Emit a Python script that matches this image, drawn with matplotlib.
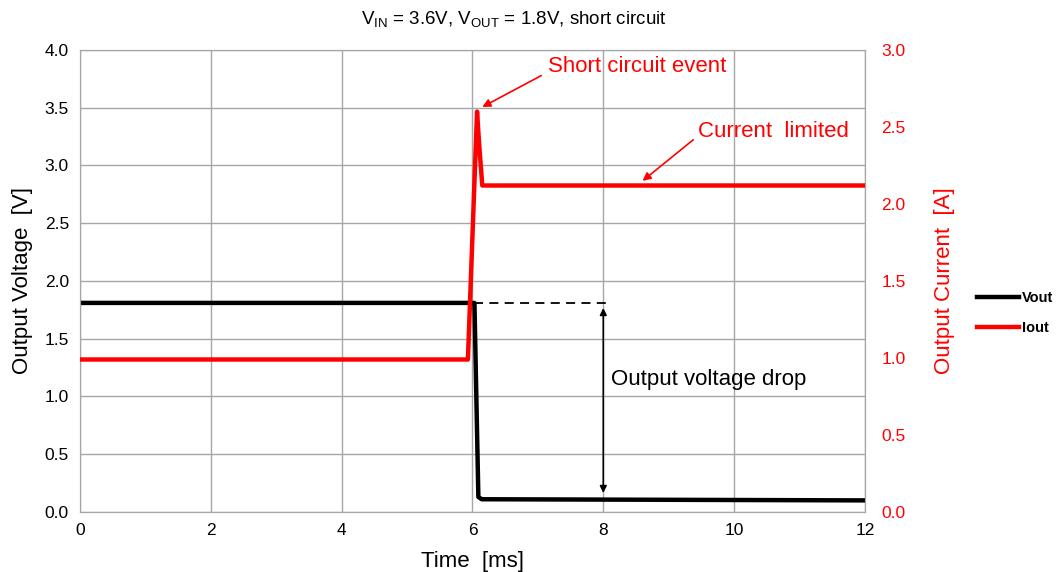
import matplotlib.pyplot as plt

# Short circuit test waveform, VIN = 3.6V, VOUT = 1.8V

plt.rcParams['font.family'] = ['Liberation Sans', 'DejaVu Sans']
plt.rcParams['mathtext.fontset'] = 'custom'
plt.rcParams['mathtext.rm'] = 'Liberation Sans'

t_vout = [0, 6.03, 6.09, 6.14, 12]
vout = [1.81, 1.81, 0.13, 0.11, 0.10]

t_iout = [0, 5.93, 6.07, 6.10, 6.15, 12]
iout = [0.99, 0.99, 2.60, 2.40, 2.12, 2.12]

x_ticks = [0, 2, 4, 6, 8, 10, 12]
v_ticks = [0.0, 0.5, 1.0, 1.5, 2.0, 2.5, 3.0, 3.5, 4.0]
i_ticks = [0.0, 0.5, 1.0, 1.5, 2.0, 2.5, 3.0]

fig = plt.figure(figsize=(10.57, 5.72), dpi=100)
ax = fig.add_axes([0.0757, 0.105, 0.7426, 0.8076])
ax2 = ax.twinx()

ax.set_xlim(0, 12)
ax.set_ylim(0, 4)
ax2.set_ylim(0, 3)
ax.set_xticks(x_ticks)
ax.set_yticks(v_ticks)
ax2.set_yticks(i_ticks)
ax.set_yticklabels([f"{v:.1f}" for v in v_ticks])
ax2.set_yticklabels([f"{v:.1f}" for v in i_ticks])

ax.grid(True, color='#a6a6a6', linewidth=1)
ax.set_axisbelow(True)
for a in (ax, ax2):
    for s in a.spines.values():
        s.set_color('#a6a6a6')
ax.tick_params(axis='both', length=0, labelsize=12.5, pad=8)
ax2.tick_params(axis='y', length=0, labelsize=12.5, pad=12, labelcolor='red')

line_v, = ax.plot(t_vout, vout, color='black', linewidth=3.2, label='Vout', zorder=3)
line_i, = ax2.plot(t_iout, iout, color='red', linewidth=3.2, label='Iout', zorder=3)

# dashed reference and drop arrow
ax.plot([6.03, 8.08], [1.81, 1.81], color='black', linestyle=(0, (5, 3.5)), linewidth=1.3)
ax.annotate('', xy=(8.0, 0.14), xytext=(8.0, 1.79),
            arrowprops=dict(arrowstyle='<|-|>', color='black', linewidth=1.2,
                            mutation_scale=10))
ax.text(8.12, 1.15, 'Output voltage drop', fontsize=16, va='center')

ax2.annotate('Short circuit event', xy=(6.15, 2.63), xytext=(7.15, 2.89),
             color='red', fontsize=16, va='center',
             arrowprops=dict(arrowstyle='-|>', color='red', linewidth=1.2,
                             mutation_scale=12, shrinkA=3, shrinkB=0,
                             relpos=(0, 0.25)))
ax2.annotate('Current  limited', xy=(8.6, 2.15), xytext=(9.45, 2.47),
             color='red', fontsize=16, va='center', ha='left',
             arrowprops=dict(arrowstyle='-|>', color='red', linewidth=1.2,
                             mutation_scale=12, shrinkA=2, shrinkB=0,
                             relpos=(0, 0.3)))

ax.set_xlabel('Time  [ms]', fontsize=16, labelpad=9)
ax.set_ylabel('Output Voltage  [V]', fontsize=16, labelpad=8)
ax2.set_ylabel('Output Current  [A]', fontsize=16, color='red', labelpad=20)

fig.text(0.4863, 0.965, r'V$_{\rm IN}$ = 3.6V, V$_{\rm OUT}$ = 1.8V, short circuit',
         ha='center', va='center', fontsize=13.5)

fig.legend(handles=[line_v, line_i], loc='center left', bbox_to_anchor=(0.912, 0.452),
           frameon=False, handlelength=2.9, labelspacing=1.1,
           handletextpad=0.15, prop={'weight': 'bold', 'size': 10.5})

plt.savefig('out.png', dpi=100)
